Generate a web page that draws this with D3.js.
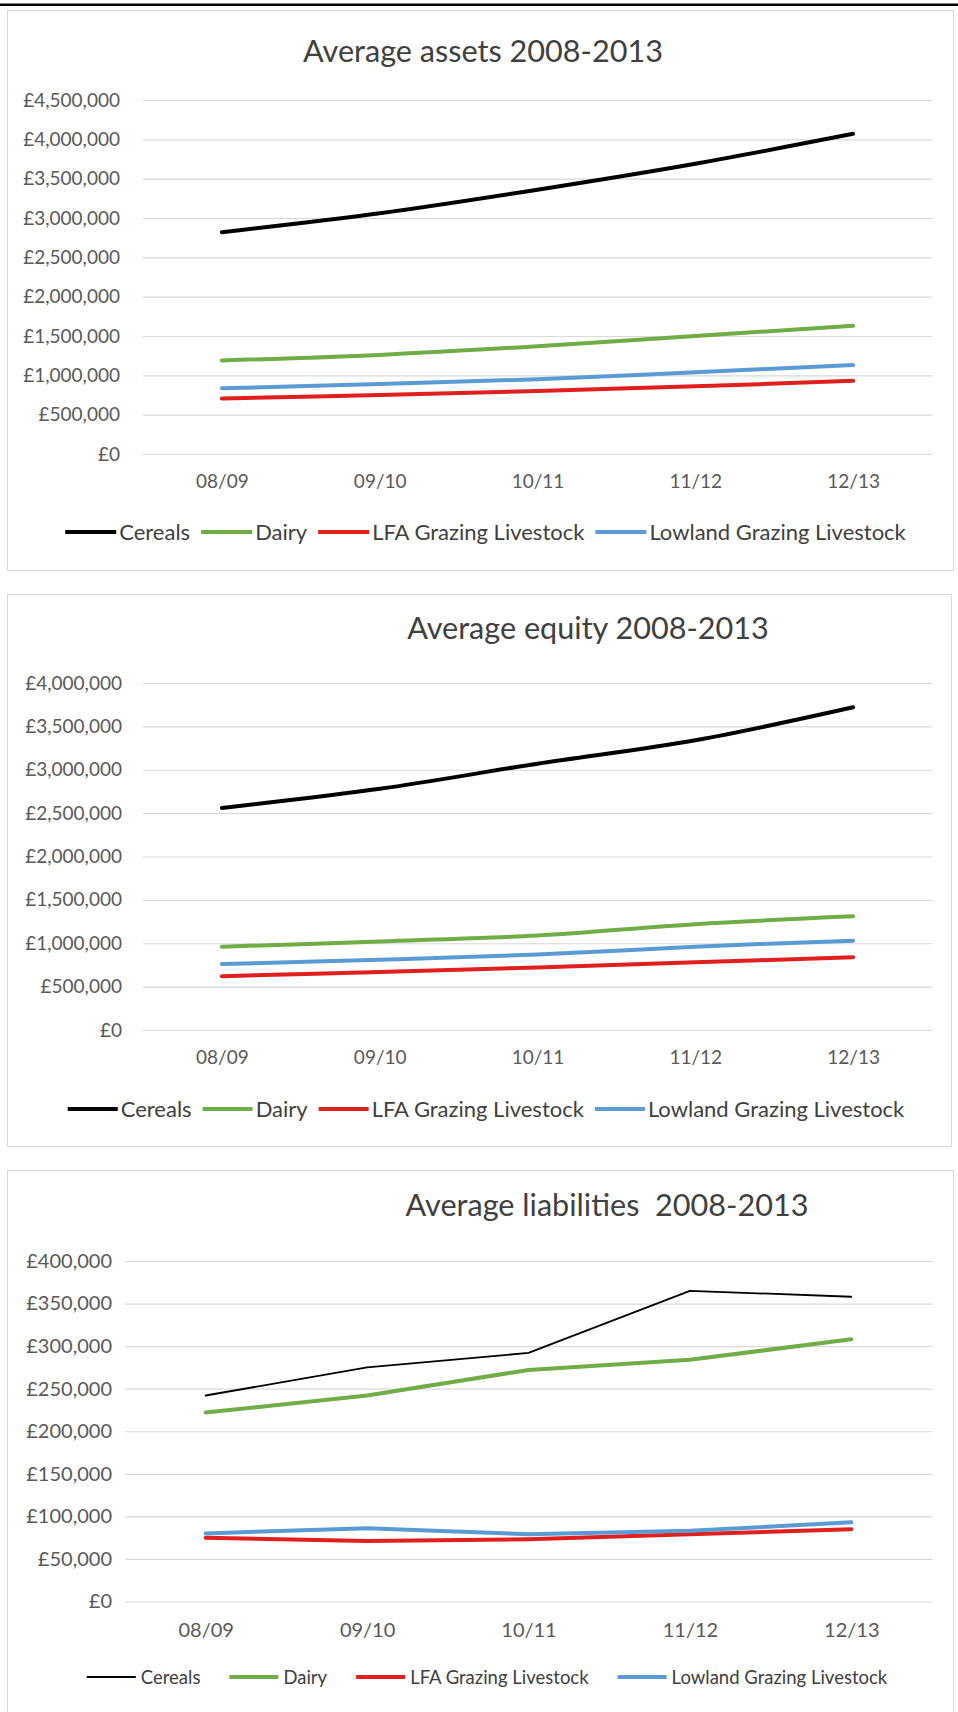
<!DOCTYPE html>
<html>
<head>
<meta charset="utf-8">
<script src="https://cdn.jsdelivr.net/npm/d3@7"></script>
<style>
  html, body { margin: 0; padding: 0; background: #ffffff; }
  svg { display: block; font-family: Lato, "Open Sans", "DejaVu Sans", sans-serif; }
</style>
</head>
<body>
<svg id="chart" width="958" height="1712"></svg>
<script>
// ---- Data -------------------------------------------------------------
const periods = ["08/09", "09/10", "10/11", "11/12", "12/13"];
const seriesNames = ["Cereals", "Dairy", "LFA Grazing Livestock", "Lowland Grazing Livestock"];
const seriesColors = ["#000000", "#70ad47", "#e0201e", "#5b9bd5"];

const assetsCereals = [2820000, 3060000, 3360000, 3690000, 4070000];
const assetsDairy   = [1190000, 1260000, 1370000, 1500000, 1630000];
const assetsLfa     = [705000, 750000, 800000, 860000, 930000];
const assetsLowland = [835000, 890000, 950000, 1040000, 1130000];

const equityCereals = [2560000, 2780000, 3070000, 3340000, 3720000];
const equityDairy   = [960000, 1020000, 1090000, 1220000, 1310000];
const equityLfa     = [620000, 670000, 720000, 780000, 840000];
const equityLowland = [760000, 810000, 870000, 960000, 1030000];

const liabCereals = [242000, 275000, 292000, 365000, 358000];
const liabDairy   = [222000, 242000, 272000, 284000, 308000];
const liabLfa     = [75000, 71000, 73000, 79000, 85000];
const liabLowland = [80000, 86000, 79000, 83000, 93000];

const assetsTicks = [0, 500000, 1000000, 1500000, 2000000, 2500000, 3000000, 3500000, 4000000, 4500000];
const equityTicks = [0, 500000, 1000000, 1500000, 2000000, 2500000, 3000000, 3500000, 4000000];
const liabTicks   = [0, 50000, 100000, 150000, 200000, 250000, 300000, 350000, 400000];

// ---- Panel layout -----------------------------------------------------
const panels = [
  {
    title: "Average assets 2008-2013",
    series: [assetsCereals, assetsDairy, assetsLfa, assetsLowland],
    ticks: assetsTicks,
    box: { x: 7, y: 10, w: 946, h: 560 },
    titleX: 483, titleY: 62,
    plot: { left: 143, right: 932, top: 100, bottom: 454 },
    yPad: 23, tickFont: 19, xPad: 21,
    legendY: 532, legendCenter: 485.5, legendFont: 22,
    sampleLen: 51, sampleGap: 3, itemGap: 11,
    strokes: [4, 4, 4, 4], smooth: true
  },
  {
    title: "Average equity 2008-2013",
    series: [equityCereals, equityDairy, equityLfa, equityLowland],
    ticks: equityTicks,
    box: { x: 7, y: 594, w: 944, h: 552 },
    titleX: 588, titleY: 639,
    plot: { left: 143, right: 932, top: 683, bottom: 1030 },
    yPad: 21, tickFont: 19, xPad: 21,
    legendY: 1109, legendCenter: 486, legendFont: 22,
    sampleLen: 50, sampleGap: 3, itemGap: 11,
    strokes: [4, 4, 4, 4], smooth: true
  },
  {
    title: "Average liabilities  2008-2013",
    series: [liabCereals, liabDairy, liabLfa, liabLowland],
    ticks: liabTicks,
    box: { x: 7, y: 1170, w: 946, h: 560 },
    titleX: 607, titleY: 1215.5,
    plot: { left: 125, right: 932, top: 1261, bottom: 1601.5 },
    yPad: 13, tickFont: 20, xPad: 21,
    legendY: 1677, legendCenter: 487, legendFont: 18.5,
    sampleLen: 49, sampleGap: 5, itemGap: 29,
    strokes: [1.8, 4, 4, 4], smooth: false
  }
];

const money = v => "£" + d3.format(",")(v);
const svg = d3.select("#chart");

// Heavy rule across the top of the page
svg.append("rect")
  .attr("x", 0).attr("y", 3.5).attr("width", 958).attr("height", 2.5)
  .attr("fill", "#000");

panels.forEach(p => {
  const g = svg.append("g");

  // Chart frame
  g.append("rect")
    .attr("x", p.box.x + 0.5).attr("y", p.box.y + 0.5)
    .attr("width", p.box.w).attr("height", p.box.h)
    .attr("fill", "#fff").attr("stroke", "#d9d9d9").attr("stroke-width", 1);

  // Title
  g.append("text")
    .attr("x", p.titleX).attr("y", p.titleY)
    .attr("text-anchor", "middle")
    .attr("font-size", 30.6)
    .attr("fill", "#404040")
    .style("white-space", "pre")
    .text(p.title);

  const x = d3.scalePoint().domain(periods).range([p.plot.left, p.plot.right]).padding(0.5);
  const y = d3.scaleLinear().domain([0, d3.max(p.ticks)]).range([p.plot.bottom, p.plot.top]);

  // Y axis with gridlines
  const yAxis = g.append("g")
    .attr("transform", `translate(${p.plot.left},0)`)
    .call(d3.axisLeft(y).tickValues(p.ticks).tickFormat(money)
      .tickSize(-(p.plot.right - p.plot.left)).tickPadding(p.yPad));
  yAxis.select(".domain").remove();
  yAxis.selectAll(".tick line").attr("stroke", "#d9d9d9").attr("stroke-width", 1.2);
  yAxis.selectAll(".tick text")
    .attr("fill", "#595959").attr("font-size", p.tickFont)
    .attr("font-family", "Lato, 'Open Sans', sans-serif");

  // X axis labels
  const xAxis = g.append("g")
    .attr("transform", `translate(0,${p.plot.bottom})`)
    .call(d3.axisBottom(x).tickSize(0).tickPadding(p.xPad));
  xAxis.select(".domain").remove();
  xAxis.selectAll(".tick text")
    .attr("fill", "#595959").attr("font-size", p.tickFont)
    .attr("font-family", "Lato, 'Open Sans', sans-serif");

  // Series lines
  const line = d3.line()
    .x((d, i) => x(periods[i]))
    .y(d => y(d))
    .curve(p.smooth ? d3.curveCardinal.tension(0) : d3.curveLinear);

  p.series.forEach((vals, si) => {
    g.append("path")
      .datum(vals)
      .attr("d", line)
      .attr("fill", "none")
      .attr("stroke", seriesColors[si])
      .attr("stroke-width", p.strokes[si])
      .attr("stroke-linecap", "round")
      .attr("stroke-linejoin", "round");
  });

  // Legend, centred under the plot
  const lg = g.append("g");
  const items = seriesNames.map((name, si) => {
    const item = lg.append("g");
    item.append("line")
      .attr("x1", 0).attr("x2", p.sampleLen)
      .attr("y1", p.legendY).attr("y2", p.legendY)
      .attr("stroke", seriesColors[si])
      .attr("stroke-width", p.strokes[si]);
    const t = item.append("text")
      .attr("x", p.sampleLen + p.sampleGap)
      .attr("y", p.legendY + p.legendFont * 0.358)
      .attr("font-size", p.legendFont)
      .attr("fill", "#404040")
      .text(name);
    return { item, w: p.sampleLen + p.sampleGap + t.node().getComputedTextLength() };
  });
  const total = d3.sum(items, d => d.w) + p.itemGap * (items.length - 1);
  let cx = p.legendCenter - total / 2;
  items.forEach(d => {
    d.item.attr("transform", `translate(${cx},0)`);
    cx += d.w + p.itemGap;
  });
});
</script>
</body>
</html>
